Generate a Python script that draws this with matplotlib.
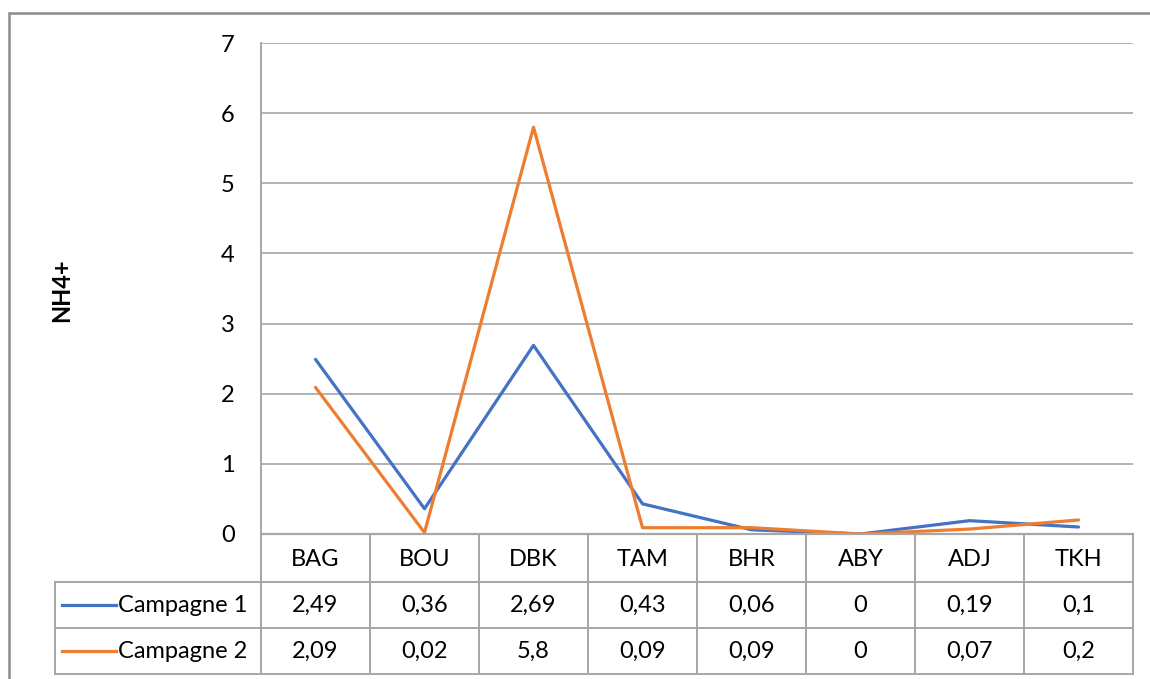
import matplotlib.pyplot as plt
from matplotlib.patches import Rectangle

sites = ['BAG', 'BOU', 'DBK', 'TAM', 'BHR', 'ABY', 'ADJ', 'TKH']
campagne1 = [2.49, 0.36, 2.69, 0.43, 0.06, 0, 0.19, 0.1]
campagne2 = [2.09, 0.02, 5.8, 0.09, 0.09, 0, 0.07, 0.2]
series_names = ['Campagne 1', 'Campagne 2']
colors = ['#4472C4', '#ED7D31']

plt.rcParams['font.family'] = ['Lato', 'DejaVu Sans']
grid_col = '#a6a6a6'
fs = 17

W, H = 1150, 679
fig = plt.figure(figsize=(W / 100, H / 100), dpi=100)

# outer chart frame
fig.patches.append(Rectangle((9 / W, -0.05), 1.2, (H - 13) / H + 0.05,
                             transform=fig.transFigure, fill=False,
                             edgecolor='#8c8c8c', linewidth=1.8))

x0, x1, y0, y1 = 261, 1133, 534, 43
ax = fig.add_axes([x0 / W, (H - y0) / H, (x1 - x0) / W, (y0 - y1) / H])
x = list(range(len(sites)))
for vals, col in zip([campagne1, campagne2], colors):
    ax.plot(x, vals, color=col, linewidth=2.3, solid_capstyle='round')
ax.set_xlim(-0.5, len(sites) - 0.5)
ax.set_ylim(0, 7)
ax.set_yticks(range(8))
ax.yaxis.grid(True, color=grid_col, linewidth=1.2)
ax.set_axisbelow(True)
ax.tick_params(axis='y', length=0, pad=19, labelsize=fs)
ax.set_xticks([])
for s in ['top', 'right']:
    ax.spines[s].set_visible(False)
ax.spines['left'].set_color(grid_col)
ax.spines['left'].set_linewidth(1.4)
ax.spines['bottom'].set_color(grid_col)
ax.spines['bottom'].set_linewidth(1.6)
fig.text(62 / W, 1 - 290 / H, 'NH4+', rotation=90, ha='center', va='center',
         fontsize=fs, fontweight='bold')

# data table under the plot
leg_w = (x0 - 55) / ((x1 - x0) / len(sites))
tx0, ty0, ty1 = 55, 534, 674
tax = fig.add_axes([tx0 / W, (H - ty1) / H, (x1 - tx0) / W, (ty1 - ty0) / H])
tax.set_xlim(-0.5 - leg_w, len(sites) - 0.5)
tax.set_ylim(0, 3.05)
tax.axis('off')
lk = dict(color=grid_col, linewidth=1.4, clip_on=False)
# horizontal borders
tax.plot([-0.5, len(sites) - 0.5], [2, 2], **lk)
tax.plot([-0.5 - leg_w, len(sites) - 0.5], [1, 1], **lk)
tax.plot([-0.5 - leg_w, len(sites) - 0.5], [0, 0], **lk)
tax.plot([-0.5 - leg_w, -0.5], [2, 2], **lk)
# vertical borders
tax.plot([-0.5 - leg_w, -0.5 - leg_w], [0, 2], **lk)
for i in range(len(sites) + 1):
    tax.plot([i - 0.5, i - 0.5], [0, 3.05], **lk)

for i, s in enumerate(sites):
    tax.text(i, 2.5, s, ha='center', va='center', fontsize=fs)
for r, (vals, name, col) in enumerate(zip([campagne1, campagne2], series_names, colors)):
    yy = 1.5 - r
    for i, v in enumerate(vals):
        tax.text(i, yy, f'{v:g}'.replace('.', ','), ha='center', va='center', fontsize=fs)
    lx = -0.5 - leg_w
    tax.plot([lx + 0.06, lx + 0.56], [yy, yy], color=col, linewidth=2.3)
    tax.text(lx + 0.58, yy, name, ha='left', va='center', fontsize=fs)

fig.savefig('out.png', dpi=100)
